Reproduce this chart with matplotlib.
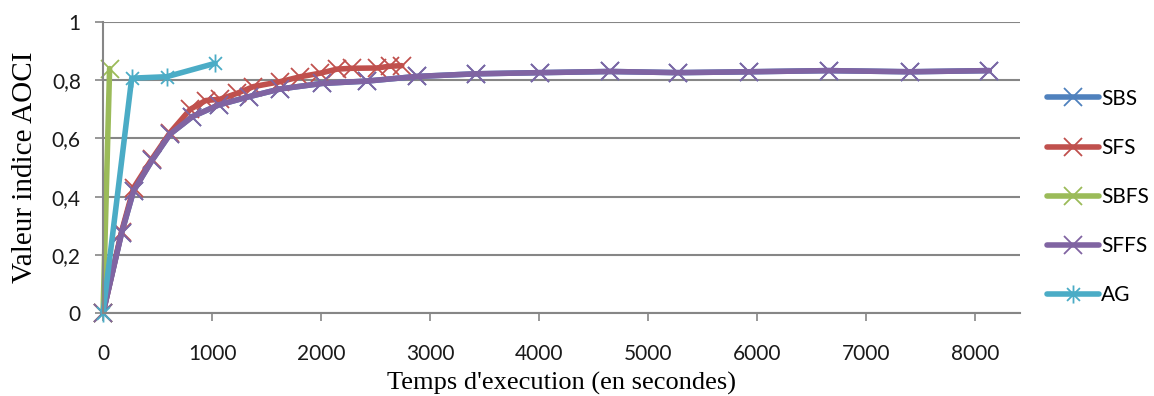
import numpy as np
import matplotlib
matplotlib.use('Agg')
import matplotlib.pyplot as plt
from matplotlib.path import Path

# données
sfs_t = [0, 170, 280, 450, 615, 800, 940, 1075, 1230, 1380, 1625, 1810, 1990, 2145, 2280, 2510, 2630, 2740]
sfs_v = [0, 0.28, 0.43, 0.53, 0.62, 0.70, 0.73, 0.735, 0.755, 0.778, 0.795, 0.812, 0.824, 0.838, 0.841, 0.842, 0.848, 0.85]

sffs_t = [0, 170, 280, 450, 615, 820, 1060, 1335, 1625, 2010, 2420, 2880, 3420, 4010, 4655, 5275, 5930, 6655, 7400, 8130]
sffs_v = [0, 0.275, 0.42, 0.525, 0.615, 0.675, 0.715, 0.743, 0.77, 0.789, 0.797, 0.813, 0.822, 0.826, 0.83, 0.826, 0.829, 0.833, 0.829, 0.833]

# SBS est caché sous SFFS
sbs_t = list(sffs_t)
sbs_v = list(sffs_v)

sbfs_t = [0, 60]
sbfs_v = [0, 0.84]

ag_t = [0, 263, 584, 1028]
ag_v = [0, 0.807, 0.812, 0.858]

x_ticks = [0, 1000, 2000, 3000, 4000, 5000, 6000, 7000, 8000]
y_ticks = [0, 0.2, 0.4, 0.6, 0.8, 1.0]
y_tick_labels = ['0', '0,2', '0,4', '0,6', '0,8', '1']

# marqueur étoile façon Excel (X + trait vertical)
star = Path([(-1, -1), (1, 1), (-1, 1), (1, -1), (0, -1.4), (0, 1.4)],
            [Path.MOVETO, Path.LINETO, Path.MOVETO, Path.LINETO, Path.MOVETO, Path.LINETO])

fig = plt.figure(figsize=(11.54, 3.96), dpi=100)
ax = fig.add_axes([0.0893, 0.2096, 0.7947, 0.7348])

lw = 4.0
ms = 13
mew = 1.3
series = [
    ('SBS', sbs_t, sbs_v, '#4F81BD', 'x'),
    ('SFS', sfs_t, sfs_v, '#C0504D', 'x'),
    ('SBFS', sbfs_t, sbfs_v, '#9BBB59', 'x'),
    ('SFFS', sffs_t, sffs_v, '#8064A2', 'x'),
    ('AG', ag_t, ag_v, '#4BACC6', star),
]
for name, t, v, c, m in series:
    ax.plot(t, v, color=c, lw=lw, marker=m, ms=ms, mew=mew, label=name,
            solid_capstyle='round', solid_joinstyle='round', clip_on=False)

ax.set_xlim(0, 8413)
ax.set_ylim(0, 1)
ax.set_xticks(x_ticks)
ax.set_yticks(y_ticks)
ax.set_yticklabels(y_tick_labels)

grid_c = '#868686'
ax.yaxis.grid(True, color=grid_c, lw=1.5)
ax.set_axisbelow(True)
for s in ['top', 'right']:
    ax.spines[s].set_visible(False)
for s in ['left', 'bottom']:
    ax.spines[s].set_color(grid_c)
    ax.spines[s].set_linewidth(1.5)
ax.tick_params(axis='both', colors=grid_c, width=1.2, length=6)
ax.tick_params(axis='x', pad=16)
ax.tick_params(axis='y', pad=10)
for lab in ax.get_xticklabels() + ax.get_yticklabels():
    lab.set_family('Lato')
    lab.set_fontsize(15)
    lab.set_color('#1a1a1a')

ax.set_xlabel("Temps d'execution (en secondes)", family='Liberation Serif', fontsize=19, labelpad=6)
ax.set_ylabel('Valeur indice AOCI', family='Liberation Serif', fontsize=21, labelpad=10)

leg = fig.legend(loc='center left', bbox_to_anchor=(0.9, 0.5025), frameon=False,
                 prop={'family': 'Lato', 'size': 15}, handlelength=2.5, handletextpad=0.1,
                 labelspacing=1.4, borderaxespad=0)

plt.savefig('out.png', dpi=100)
